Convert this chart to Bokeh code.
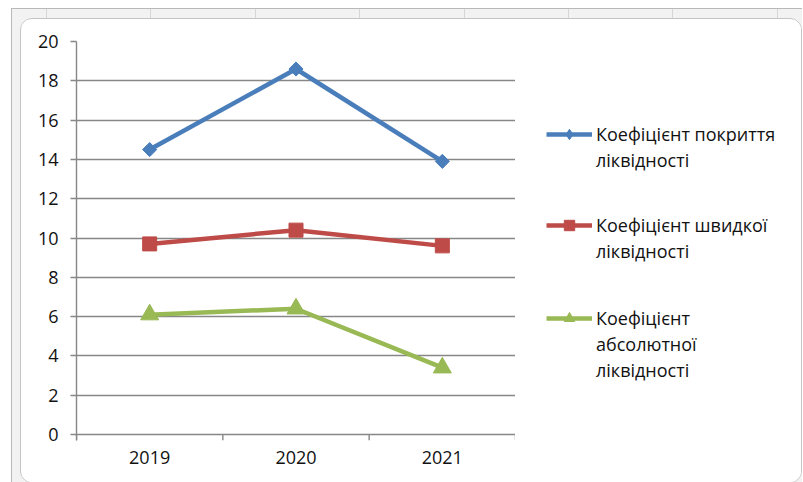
from bokeh.plotting import figure
from bokeh.layouts import column, row
from bokeh.models import (FactorRange, Range1d, LinearAxis, CategoricalAxis, FixedTicker,
                          Legend, LegendItem, Grid)
from bokeh.embed import file_html
from bokeh.resources import INLINE
import numpy as np

# Liquidity ratios by year
years = ["2019", "2020", "2021"]
coverage_ratio = [14.5, 18.6, 13.9]
quick_ratio = [9.7, 10.4, 9.6]
absolute_ratio = [6.1, 6.4, 3.4]

series_labels = [
    ["Коефіцієнт покриття", "ліквідності"],
    ["Коефіцієнт швидкої", "ліквідності"],
    ["Коефіцієнт", "абсолютної", "ліквідності"],
]
y_ticks = [0, 2, 4, 6, 8, 10, 12, 14, 16, 18, 20]

FONT = "Open Sans"
FONT_SIZE = "18px"
TEXT = "#111111"
AXIS = "#878787"
TICK_DROP = 0.305  # room below zero for the category boundary ticks

p = figure(width=494, height=463,
           x_range=FactorRange(factors=years, range_padding=0),
           y_range=Range1d(-TICK_DROP, 20),
           output_backend="svg", toolbar_location=None,
           x_axis_location=None, y_axis_location=None,
           min_border_left=55, min_border_right=0,
           min_border_top=22, min_border_bottom=42)
p.outline_line_color = None
p.background_fill_color = "white"
p.border_fill_color = "white"
p.center = [r for r in p.center if not isinstance(r, Grid)]

# horizontal gridlines (the one at zero doubles as the category axis line)
p.add_layout(Grid(dimension=1, ticker=FixedTicker(ticks=y_ticks),
                  grid_line_color=AXIS, grid_line_width=1.4))

# value axis
yaxis = LinearAxis(ticker=FixedTicker(ticks=y_ticks),
                   axis_line_color=AXIS, axis_line_width=1.4,
                   major_tick_line_color=AXIS, major_tick_line_width=1.4,
                   major_tick_out=6, major_tick_in=0,
                   minor_tick_line_color=None,
                   major_label_standoff=12,
                   major_label_text_font=FONT,
                   major_label_text_font_size=FONT_SIZE,
                   major_label_text_color=TEXT)
p.add_layout(yaxis, "left")

# category labels centred on each year
xaxis = CategoricalAxis(axis_line_color=None, major_tick_line_color=None,
                        major_tick_out=0, major_tick_in=0,
                        major_label_standoff=10,
                        major_label_text_font=FONT,
                        major_label_text_font_size=FONT_SIZE,
                        major_label_text_color=TEXT)
p.add_layout(xaxis, "below")

# tick marks on the boundaries between year slots
bounds = [(y, -0.5) for y in years] + [(years[-1], 0.5)]
p.segment(x0=bounds, x1=bounds, y0=0, y1=-TICK_DROP,
          line_color=AXIS, line_width=1.4)

colors = ["#4A7EBB", "#BE4B48", "#98B954"]
markers = [("square", 10, np.pi / 4), ("square", 14, 0), ("triangle", 18, 0)]
legend_markers = ["diamond", "square", "triangle"]
legend_marker_sizes = [15, 13, 15]

for vals, color, (marker, size, angle) in zip(
        [coverage_ratio, quick_ratio, absolute_ratio], colors, markers):
    p.line(years, vals, line_color=color, line_width=4.5)
    p.scatter(years, vals, marker=marker, size=size, angle=angle,
              fill_color=color, line_color=color)

# legend panel to the right of the plot area; its swatch renderers sit
# outside the visible range so only the legend glyphs show
LW, LH = 286, 463
lg = figure(width=LW, height=LH, x_range=Range1d(0, 1), y_range=Range1d(0, 1),
            output_backend="svg", toolbar_location=None,
            x_axis_location=None, y_axis_location=None,
            min_border=0)
lg.outline_line_color = None
lg.background_fill_color = "white"
lg.border_fill_color = "white"
lg.grid.visible = False

legend_bottoms = [267, 176, 57]
for color, lmarker, lsize, lines, vy in zip(colors, legend_markers, legend_marker_sizes,
                                            series_labels, legend_bottoms):
    ln = lg.line([5, 6], [5, 6], line_color=color, line_width=4.5)
    mk = lg.scatter([5], [5], marker=lmarker, size=lsize,
                    fill_color=color, line_color=color)
    items = [LegendItem(label=lines[0], renderers=[ln, mk])]
    items += [LegendItem(label=t) for t in lines[1:]]
    lg.add_layout(Legend(items=items, location=(31, vy),
                         glyph_width=46, glyph_height=26, label_height=26,
                         label_text_font=FONT, label_text_font_size=FONT_SIZE,
                         label_text_color=TEXT, label_standoff=4,
                         spacing=0, padding=0, margin=0,
                         border_line_color=None, background_fill_alpha=0))

# chart object with rounded corners, sitting on the worksheet strip
chart = column(row(p, lg), styles={"border": "1px solid #c4c4c4",
                                   "border-radius": "12px",
                                   "overflow": "hidden",
                                   "background-color": "white"})
sheet = column(chart, styles={
    "margin-left": "11px", "margin-top": "8px",
    "border-left": "1px solid #b9b9b9", "border-top": "1px solid #b9b9b9",
    "padding-left": "8px", "padding-top": "9px",
    "background-color": "#f2f2f2",
    "background-image": "repeating-linear-gradient(90deg, transparent 0px, "
                        "transparent 34px, #d6d6d6 34px, #d6d6d6 35px, "
                        "transparent 35px, transparent 104.4px)",
})

open("out.html", "w").write(file_html(sheet, INLINE))
